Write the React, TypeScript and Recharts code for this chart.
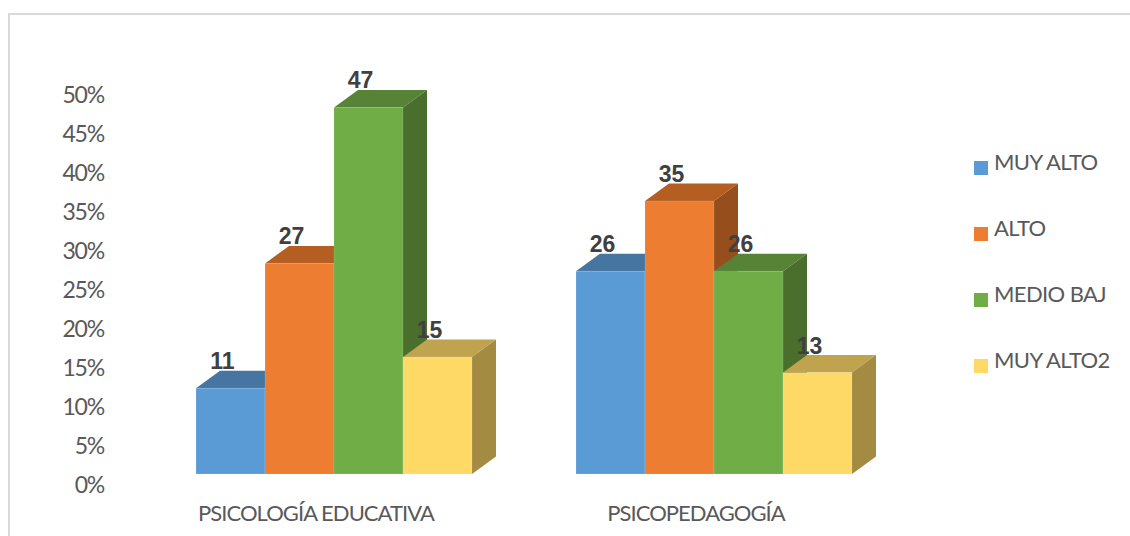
import React from 'react';
import { BarChart, Bar, XAxis, YAxis, Legend, LabelList } from 'recharts';

const categories = ['PSICOLOGÍA EDUCATIVA', 'PSICOPEDAGOGÍA'];
const muyAlto = [11, 26];
const alto = [27, 35];
const medioBaj = [47, 26];
const muyAlto2 = [15, 13];
const yTicks = [0, 5, 10, 15, 20, 25, 30, 35, 40, 45, 50];

const data = categories.map((name, i) => ({
  name,
  muyAlto: muyAlto[i],
  alto: alto[i],
  medioBaj: medioBaj[i],
  muyAlto2: muyAlto2[i],
}));

const series = [
  { key: 'muyAlto', name: 'MUY ALTO', front: '#5B9BD5', top: '#4575A0', side: '#3E6A93' },
  { key: 'alto', name: 'ALTO', front: '#ED7D31', top: '#B55E22', side: '#964F1C' },
  { key: 'medioBaj', name: 'MEDIO BAJ', front: '#70AD47', top: '#568336', side: '#4A6E2B' },
  { key: 'muyAlto2', name: 'MUY ALTO2', front: '#FFD966', top: '#BFA34E', side: '#A38C41' },
];

const FONT = 'Lato';
const TEXT = '#595959';
// the front face sits away from the axis scale, like in a 3D office chart
const SHIFT_X = 18.5;
const SHIFT_Y = -10;
const DEPTH_X = 24;
const DEPTH_Y = 17.5;

const Bar3D = (props: any) => {
  const { x, y, width, height, front, top, side } = props;
  const l = x + SHIFT_X;
  const r = l + width;
  const t = y + SHIFT_Y;
  const b = t + height;
  return (
    <g>
      <path d={`M${l},${t}L${l + DEPTH_X},${t - DEPTH_Y}L${r + DEPTH_X},${t - DEPTH_Y}L${r},${t}Z`} fill={top} />
      <path d={`M${r},${t}L${r + DEPTH_X},${t - DEPTH_Y}L${r + DEPTH_X},${b - DEPTH_Y}L${r},${b}Z`} fill={side} />
      <rect x={l} y={t} width={width} height={height} fill={front} stroke="rgba(255,255,255,0.12)" strokeWidth={1} />
    </g>
  );
};

const ValueLabel = (props: any) => {
  const { x, y, width, value } = props;
  return (
    <text
      x={x + width / 2 + SHIFT_X - 8}
      y={y + SHIFT_Y - 19}
      textAnchor="middle"
      fontFamily="Liberation Sans"
      fontWeight="bold"
      fontSize={23}
      fill="#404040"
    >
      {value}
    </text>
  );
};

const LegendBox = (props: any) => (
  <div>
    {props.payload.map((item: any) => (
      <div
        key={item.value}
        style={{ display: 'flex', alignItems: 'center', height: 66, fontFamily: FONT, fontSize: 22, color: TEXT, whiteSpace: 'nowrap', letterSpacing: -0.6 }}
      >
        <span style={{ display: 'inline-block', width: 14, height: 14, background: item.color, marginRight: 6, marginTop: 13 }} />
        <span>{item.value}</span>
      </div>
    ))}
  </div>
);

const App = () => {
  return (
    <div style={{ position: 'absolute', left: 0, top: 0, width: 1130, height: 536, overflow: 'hidden', background: '#fff' }}>
      <div style={{ position: 'absolute', left: 8, top: 13, width: 1122, height: 523, borderTop: '2px solid #D9D9D9', borderLeft: '2px solid #D9D9D9', boxSizing: 'border-box' }} />
      <BarChart
        width={1130}
        height={536}
        data={data}
        margin={{ top: 94, right: 244, bottom: 0, left: 0 }}
        barCategoryGap={51.5}
        barGap={0}
        style={{ position: 'absolute', left: 0, top: 0 }}
      >
        <XAxis
          dataKey="name"
          height={52}
          axisLine={false}
          tickLine={false}
          tickSize={0}
          tickMargin={21}
          interval={0}
          tick={{ fontFamily: FONT, fontSize: 22, fill: TEXT, letterSpacing: -0.95 }}
        />
        <YAxis
          width={126}
          domain={[0, 50]}
          ticks={yTicks}
          interval={0}
          axisLine={false}
          tickLine={false}
          tickSize={0}
          tickMargin={22}
          tickFormatter={(v: number) => `${v}%`}
          tick={{ fontFamily: FONT, fontSize: 23, fill: TEXT, letterSpacing: -1.2, dy: 1 }}
        />
        <Legend
          layout="vertical"
          align="center"
          verticalAlign="middle"
          itemSorter={null}
          content={<LegendBox />}
          wrapperStyle={{ position: 'absolute', left: 974, top: 128, width: 156, margin: 0 }}
        />
        {series.map((s) => (
          <Bar
            key={s.key}
            dataKey={s.key}
            name={s.name}
            fill={s.front}
            isAnimationActive={false}
            shape={(p: any) => <Bar3D {...p} front={s.front} top={s.top} side={s.side} />}
          >
            <LabelList dataKey={s.key} content={<ValueLabel />} />
          </Bar>
        ))}
      </BarChart>
    </div>
  );
};

export default App;
